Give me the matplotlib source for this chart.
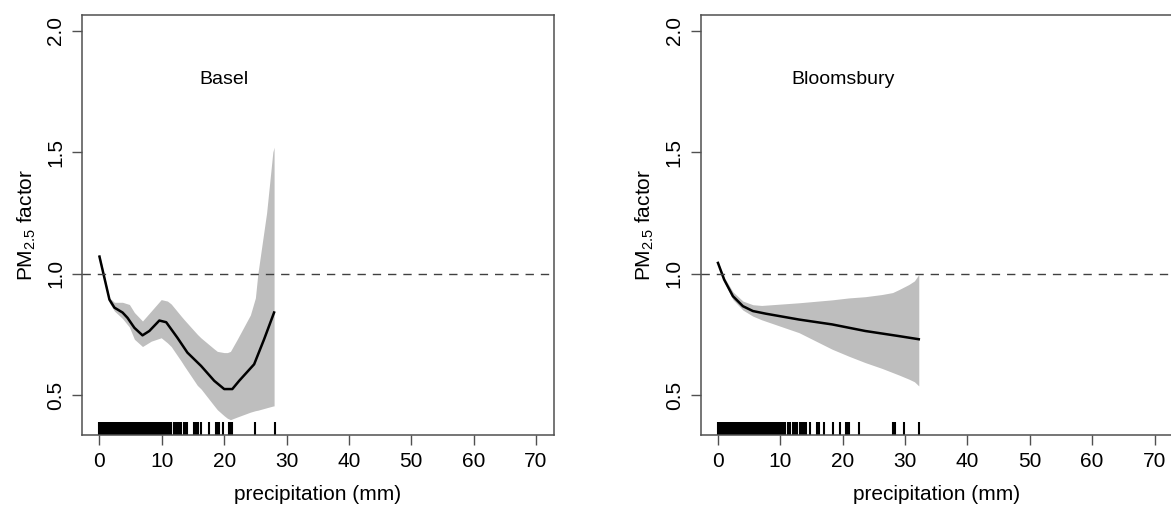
import numpy as np
import matplotlib
matplotlib.use("Agg")
import matplotlib.pyplot as plt

plt.rcParams['font.family'] = ['Liberation Sans', 'DejaVu Sans']
plt.rcParams['mathtext.fontset'] = 'custom'
plt.rcParams['mathtext.rm'] = 'Liberation Sans'
plt.rcParams['mathtext.it'] = 'Liberation Sans:italic'

# Basel: smooth fit with confidence band
basel_x = [0.0, 1.6, 2.4, 3.7, 4.5, 5.6, 6.9, 8.0, 9.6, 10.7, 12.5, 14.1, 16.3, 18.4, 20.0, 21.3, 22.4, 24.8, 26.4, 28.0]
basel_fit = [1.07, 0.893, 0.86, 0.84, 0.818, 0.777, 0.746, 0.764, 0.807, 0.80, 0.736, 0.675, 0.62, 0.559, 0.525, 0.525, 0.559, 0.627, 0.73, 0.84]
basel_band_x = [0.0, 1.6, 2.4, 3.7, 4.8, 5.6, 6.9, 8.3, 9.9, 10.9, 11.5, 13.1, 13.6, 15.7, 16.3, 18.4, 18.9, 20.0, 20.5, 21.0, 22.1, 24.2, 25.0, 25.4, 26.8, 27.8, 28.0]
basel_upper = [1.08, 0.90, 0.882, 0.882, 0.873, 0.84, 0.805, 0.846, 0.893, 0.887, 0.875, 0.825, 0.81, 0.75, 0.735, 0.69, 0.68, 0.675, 0.675, 0.68, 0.73, 0.83, 0.90, 1.0, 1.25, 1.50, 1.52]
basel_lower = [1.06, 0.88, 0.846, 0.815, 0.78, 0.73, 0.70, 0.722, 0.736, 0.715, 0.70, 0.64, 0.62, 0.54, 0.525, 0.456, 0.44, 0.415, 0.405, 0.399, 0.41, 0.43, 0.436, 0.438, 0.448, 0.455, 0.456]
basel_rug_dense_max = 11.5
basel_rug_sparse = [11.9, 12.1, 12.3, 12.5, 12.7, 12.9, 13.05, 13.6, 13.75, 14.1, 15.2, 15.4, 15.6, 15.8,
                    16.25, 17.5, 18.75, 18.9, 19.2, 19.8, 20.8, 21.0, 21.15, 21.3, 25.0, 28.1]

# Bloomsbury: smooth fit with confidence band
bloom_x = [0.0, 1.0, 2.4, 4.0, 5.6, 7.7, 13.0, 18.3, 23.6, 29.0, 32.2]
bloom_fit = [1.044, 0.975, 0.907, 0.866, 0.846, 0.835, 0.811, 0.791, 0.764, 0.743, 0.73]
bloom_band_x = [0.0, 1.0, 2.4, 4.0, 5.6, 7.0, 13.0, 18.3, 21.0, 23.6, 26.3, 28.0, 29.0, 30.6, 31.5, 32.2]
bloom_upper = [1.05, 0.985, 0.925, 0.887, 0.872, 0.869, 0.88, 0.892, 0.90, 0.905, 0.914, 0.922, 0.934, 0.955, 0.97, 0.996]
bloom_lower = [1.04, 0.965, 0.893, 0.85, 0.825, 0.81, 0.757, 0.689, 0.66, 0.634, 0.61, 0.593, 0.583, 0.566, 0.555, 0.538]
bloom_rug_dense_max = 10.2
bloom_rug_sparse = [10.4, 10.8, 11.2, 11.6, 12.0, 12.4, 12.75, 13.2, 13.45, 13.8, 14.15, 14.8, 15.85, 16.2,
                    17.0, 18.5, 19.6, 20.5, 20.8, 21.05, 22.65, 28.1, 28.45, 29.9, 32.3]

panels = [
    ("Basel", basel_x, basel_fit, basel_band_x, basel_upper, basel_lower,
     basel_rug_dense_max, basel_rug_sparse),
    ("Bloomsbury", bloom_x, bloom_fit, bloom_band_x, bloom_upper, bloom_lower,
     bloom_rug_dense_max, bloom_rug_sparse),
]

fig = plt.figure(figsize=(11.71, 5.07), dpi=100)
lefts = [82 / 1171, 700.5 / 1171]
frame = "#505050"

for left, (name, x, fit, bx, up, lo, dmax, sparse) in zip(lefts, panels):
    ax = fig.add_axes([left, 72 / 507, 471.5 / 1171, 420 / 507])
    ax.set_xlim(-2.8, 72.8)
    ax.set_ylim(0.336, 2.064)

    ax.fill_between(bx, lo, up, color="#BEBEBE", lw=0)
    ax.plot(x, fit, color="black", lw=1.8, solid_joinstyle="round")
    ax.axhline(1.0, color="#404040", lw=1.0, dashes=(6, 5))

    # rug of observed precipitation values (readings to 0.1 mm)
    rug = np.concatenate([np.round(np.arange(0, dmax + 0.05, 0.1), 1), sparse])
    ax.vlines(rug, 0, 0.03, transform=ax.get_xaxis_transform(), color="black",
              lw=1.5, capstyle="butt")

    ax.text(20, 1.8, name, ha="center", va="center", fontsize=14)

    ax.set_xticks([0, 10, 20, 30, 40, 50, 60, 70])
    ax.set_yticks([0.5, 1.0, 1.5, 2.0])
    ax.set_yticklabels(["0.5", "1.0", "1.5", "2.0"], rotation=90, va="center")
    ax.tick_params(axis="both", length=7, width=1, color=frame, labelsize=15, pad=5)
    ax.set_xlabel("precipitation (mm)", fontsize=15, labelpad=10)
    ax.set_ylabel(r"PM$_{2.5}$ factor", fontsize=15, labelpad=6)
    for s in ax.spines.values():
        s.set_color(frame)
        s.set_linewidth(1.1)

fig.savefig("out.png", dpi=100)
